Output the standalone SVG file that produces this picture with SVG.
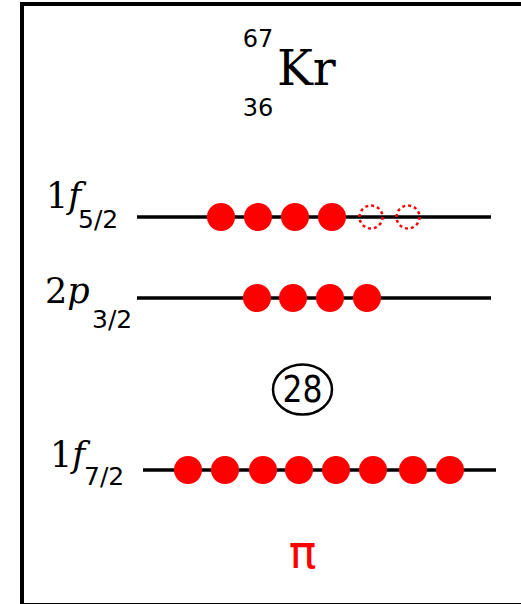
<svg xmlns="http://www.w3.org/2000/svg" width="521" height="604" viewBox="0 0 521 604">
<style>
.frame{fill:none;stroke:#000;stroke-width:4}
.lvl{stroke:#000;stroke-width:3.5;fill:none}
.p{fill:#ff0000}
.hole{fill:none;stroke:#ff0000;stroke-width:2.5;stroke-dasharray:3 3}
.serif{font-family:"DejaVu Serif","Liberation Serif",serif;fill:#000}
.ital{font-family:"DejaVu Serif","Liberation Serif",serif;font-style:italic;fill:#000}
.sans{font-family:"DejaVu Sans","Liberation Sans",sans-serif;fill:#000}
</style>
<rect class="frame" x="22" y="4" width="520" height="601"/>
<g id="title">
<text class="serif" x="277" y="85" font-size="48">Kr</text>
<text class="sans" x="258" y="47" font-size="24" text-anchor="middle">67</text>
<text class="sans" x="258" y="116" font-size="24" text-anchor="middle">36</text>
</g>
<g id="connectors">
<line class="lvl" x1="137" y1="217" x2="491" y2="217"/>
<line class="lvl" x1="137" y1="298" x2="491" y2="298"/>
<line class="lvl" x1="143" y1="470" x2="496" y2="470"/>
</g>
<g id="level-1f52">
<text x="46" y="208" font-size="35"><tspan class="serif">1</tspan><tspan class="ital">f</tspan></text>
<text class="sans" x="78" y="228" font-size="25">5/2</text>
<circle class="p" cx="221" cy="217" r="14"/>
<circle class="p" cx="258" cy="217" r="14"/>
<circle class="p" cx="295" cy="217" r="14"/>
<circle class="p" cx="332" cy="217" r="14"/>
<circle class="hole" cx="371" cy="217" r="11.5"/>
<circle class="hole" cx="408" cy="217" r="11.5"/>
</g>
<g id="level-2p32">
<text x="45" y="303" font-size="35"><tspan class="serif">2</tspan><tspan class="ital">p</tspan></text>
<text class="sans" x="92" y="328" font-size="25">3/2</text>
<circle class="p" cx="257" cy="298" r="14"/>
<circle class="p" cx="293" cy="298" r="14"/>
<circle class="p" cx="330" cy="298" r="14"/>
<circle class="p" cx="367" cy="298" r="14"/>
</g>
<g id="magic-28">
<ellipse cx="302.5" cy="389.5" rx="29.5" ry="25" fill="none" stroke="#000" stroke-width="2.5"/>
<text class="sans" x="302.5" y="402" font-size="38" text-anchor="middle" textLength="40" lengthAdjust="spacingAndGlyphs">28</text>
</g>
<g id="level-1f72">
<text x="50" y="467" font-size="35"><tspan class="serif">1</tspan><tspan class="ital">f</tspan></text>
<text class="sans" x="84" y="485" font-size="25">7/2</text>
<circle class="p" cx="188" cy="470" r="14"/>
<circle class="p" cx="225" cy="470" r="14"/>
<circle class="p" cx="263" cy="470" r="14"/>
<circle class="p" cx="299" cy="470" r="14"/>
<circle class="p" cx="336" cy="470" r="14"/>
<circle class="p" cx="373" cy="470" r="14"/>
<circle class="p" cx="413" cy="470" r="14"/>
<circle class="p" cx="450" cy="470" r="14"/>
</g>
<g id="pi-label">
<text class="sans" x="302.5" y="568" font-size="46" text-anchor="middle" style="fill:#ff0000">π</text>
</g>
</svg>
